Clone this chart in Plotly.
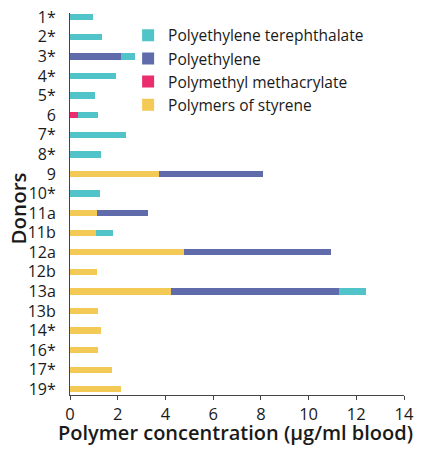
import plotly.graph_objects as go

donors = ["1*", "2*", "3*", "4*", "5*", "6", "7*", "8*", "9", "10*", "11a", "11b",
          "12a", "12b", "13a", "13b", "14*", "16*", "17*", "19*"]
# values in µg/ml blood
styrene = [0, 0, 0, 0, 0, 0, 0, 0, 3.71, 0, 1.15, 1.08, 4.78, 1.15, 4.25, 1.19, 1.29, 1.16, 1.76, 2.15]
pmma    = [0, 0, 0, 0, 0, 0.35, 0, 0, 0, 0, 0, 0, 0, 0, 0, 0, 0, 0, 0, 0]
pe      = [0, 0, 2.12, 0, 0, 0, 0, 0, 4.37, 0, 2.13, 0, 6.14, 0, 7.04, 0, 0, 0, 0, 0]
pet     = [0.95, 1.36, 0.59, 1.94, 1.05, 0.82, 2.36, 1.32, 0, 1.26, 0, 0.73, 0, 0, 1.11, 0, 0, 0, 0, 0]

series = [
    ("Polymers of styrene", styrene, "#f4ca56"),
    ("Polymethyl methacrylate", pmma, "#ea2d6d"),
    ("Polyethylene", pe, "#5f6bab"),
    ("Polyethylene terephthalate", pet, "#50c4c8"),
]

xticks = [0, 2, 4, 6, 8, 10, 12, 14]

fig = go.Figure()
for name, vals, col in series:
    fig.add_trace(go.Bar(
        y=donors, x=vals, name=name, orientation="h",
        marker=dict(color=col, line=dict(width=0)),
    ))

font = "'Open Sans', Lato, sans-serif"
fig.update_layout(
    width=428, height=441,
    barmode="stack", bargap=0.68,
    plot_bgcolor="white", paper_bgcolor="white",
    margin=dict(l=62, r=32, t=5, b=54),
    font=dict(family=font, color="#1a1a1a", size=15),
    showlegend=True,
    legend=dict(
        traceorder="reversed", x=0.174, y=0.985, xanchor="left", yanchor="top",
        font=dict(size=15.5, family=font), itemsizing="constant",
        tracegroupgap=0, bgcolor="rgba(0,0,0,0)",
    ),
    xaxis=dict(
        range=[0, 14], tickvals=xticks, ticktext=[str(t) for t in xticks],
        showgrid=False, zeroline=False, showline=True, linecolor="#444", linewidth=1,
        ticks="outside", ticklen=4, tickcolor="#444", automargin=False,
        tickfont=dict(size=16.5),
    ),
    yaxis=dict(
        type="category", range=[19.29, -0.22], automargin=False,
        showgrid=False, zeroline=False, showline=True, linecolor="#444", linewidth=1,
        ticks="", tickfont=dict(size=16), ticklabelstandoff=10,
    ),
    annotations=[
        dict(text="Polymer concentration (µg/ml blood)", xref="paper", yref="paper",
             x=0.497, y=-0.097, xanchor="center", yanchor="middle", showarrow=False,
             borderpad=0, font=dict(size=20, weight=600, family=font, color="#1a1a1a")),
        dict(text="Donors", xref="paper", yref="paper", textangle=-90,
             x=-0.155, y=0.489, xanchor="center", yanchor="middle", showarrow=False,
             borderpad=0, font=dict(size=20.5, weight=600, family=font, color="#1a1a1a")),
    ],
)

fig.write_html("out.html")
